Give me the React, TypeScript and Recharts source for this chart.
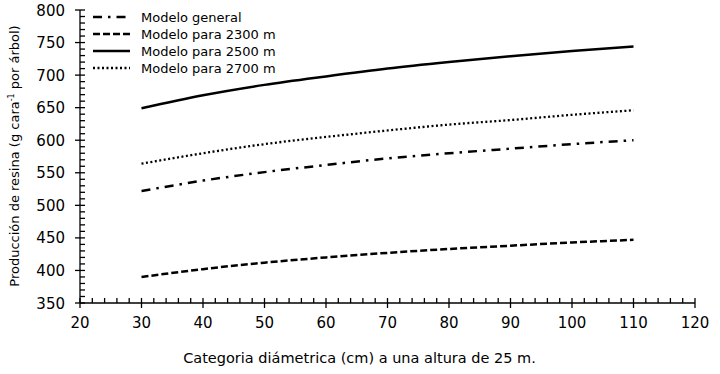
import { LineChart, Line, XAxis, YAxis } from "recharts";

const diametros = [30, 40, 50, 60, 70, 80, 90, 100, 110];
const general = [522, 538, 551, 562, 572, 580, 587, 594, 600];
const m2300 = [390, 402, 412, 420, 427, 433, 438, 443, 447];
const m2500 = [649, 669, 685, 698, 710, 720, 729, 737, 744];
const m2700 = [564, 580, 594, 605, 615, 624, 631, 639, 646];

const xMajor = [20, 30, 40, 50, 60, 70, 80, 90, 100, 110, 120];
const yMajor = [350, 400, 450, 500, 550, 600, 650, 700, 750, 800];

// minor ticks every 2 on x, every 10 on y
const xTicks: number[] = [];
for (let v = 20; v <= 120; v += 2) xTicks.push(v);
const yTicks: number[] = [];
for (let v = 350; v <= 800; v += 10) yTicks.push(v);

const data = diametros.map((d, i) => ({
  d,
  general: general[i],
  m2300: m2300[i],
  m2500: m2500[i],
  m2700: m2700[i],
}));

const font = "'DejaVu Sans', Verdana, sans-serif";

const series = [
  { key: "general", name: "Modelo general", dash: "9 6 2.5 6", width: 2.5 },
  { key: "m2300", name: "Modelo para 2300 m", dash: "7 3", width: 2.5 },
  { key: "m2500", name: "Modelo para 2500 m", dash: undefined, width: 2.5 },
  { key: "m2700", name: "Modelo para 2700 m", dash: "2 2.5", width: 2.3 },
];

const XTick = (props: any) => {
  const { x, y, payload } = props;
  const major = xMajor.includes(payload.value);
  return (
    <g>
      <line x1={x} x2={x} y1={y - 5} y2={major ? y + 5 : y} stroke="#000" strokeWidth={1.3} />
      {major && (
        <text x={x} y={y + 25} textAnchor="middle" fontSize={15} fontFamily={font} fill="#000">
          {payload.value}
        </text>
      )}
    </g>
  );
};

const YTick = (props: any) => {
  const { x, y, payload } = props;
  const major = yMajor.includes(payload.value);
  return (
    <g>
      <line x1={major ? x - 5 : x} x2={x + 5} y1={y} y2={y} stroke="#000" strokeWidth={1.3} />
      {major && (
        <text x={x - 15} y={y + 5.5} textAnchor="end" fontSize={15} fontFamily={font} fill="#000">
          {payload.value}
        </text>
      )}
    </g>
  );
};

const LegendBox = () => (
  <svg width={240} height={72} style={{ position: "absolute", left: 88, top: 8 }}>
    {series.map((s, i) => {
      const cy = 9 + i * 17;
      return (
        <g key={s.key}>
          <line x1={5} x2={42} y1={cy} y2={cy} stroke="#000" strokeWidth={s.width} strokeDasharray={s.dash} />
          <text x={53} y={cy + 4.5} fontSize={13} fontFamily={font} fill="#000">
            {s.name}
          </text>
        </g>
      );
    })}
  </svg>
);

export default function App() {
  return (
    <div style={{ position: "absolute", left: 0, top: 0, width: 720, height: 374, background: "#fff" }}>
      <LineChart width={720} height={374} data={data} margin={{ top: 10, right: 25, left: 0, bottom: 0 }}>
        <XAxis
          dataKey="d"
          type="number"
          domain={[20, 120]}
          ticks={xTicks}
          interval={0}
          tickSize={0}
          tickMargin={0}
          tickLine={false}
          tick={<XTick />}
          height={71}
          axisLine={{ stroke: "#000", strokeWidth: 1.3 }}
          label={{
            value: "Categoria diámetrica (cm) a una altura de 25 m.",
            position: "insideBottom",
            offset: 11,
            dx: -28,
            fontSize: 14.5,
            fontFamily: font,
            fill: "#000",
          }}
        />
        <YAxis
          type="number"
          domain={[350, 800]}
          ticks={yTicks}
          interval={0}
          tickSize={0}
          tickMargin={0}
          tickLine={false}
          tick={<YTick />}
          width={80}
          axisLine={{ stroke: "#000", strokeWidth: 1.3 }}
          label={{
            content: () => (
              <text
                transform="translate(19,156) rotate(-90)"
                textAnchor="middle"
                fontSize={13}
                fontFamily={font}
                fill="#000"
              >
                Producción de resina (g cara
                <tspan fontSize={8} dy={-5}>-1</tspan>
                <tspan dy={5}> por árbol)</tspan>
              </text>
            ),
          }}
        />
        {series.map((s) => (
          <Line
            key={s.key}
            dataKey={s.key}
            name={s.name}
            type="monotone"
            stroke="#000"
            strokeWidth={s.width}
            strokeDasharray={s.dash}
            dot={false}
            isAnimationActive={false}
          />
        ))}
      </LineChart>
      <LegendBox />
    </div>
  );
}
